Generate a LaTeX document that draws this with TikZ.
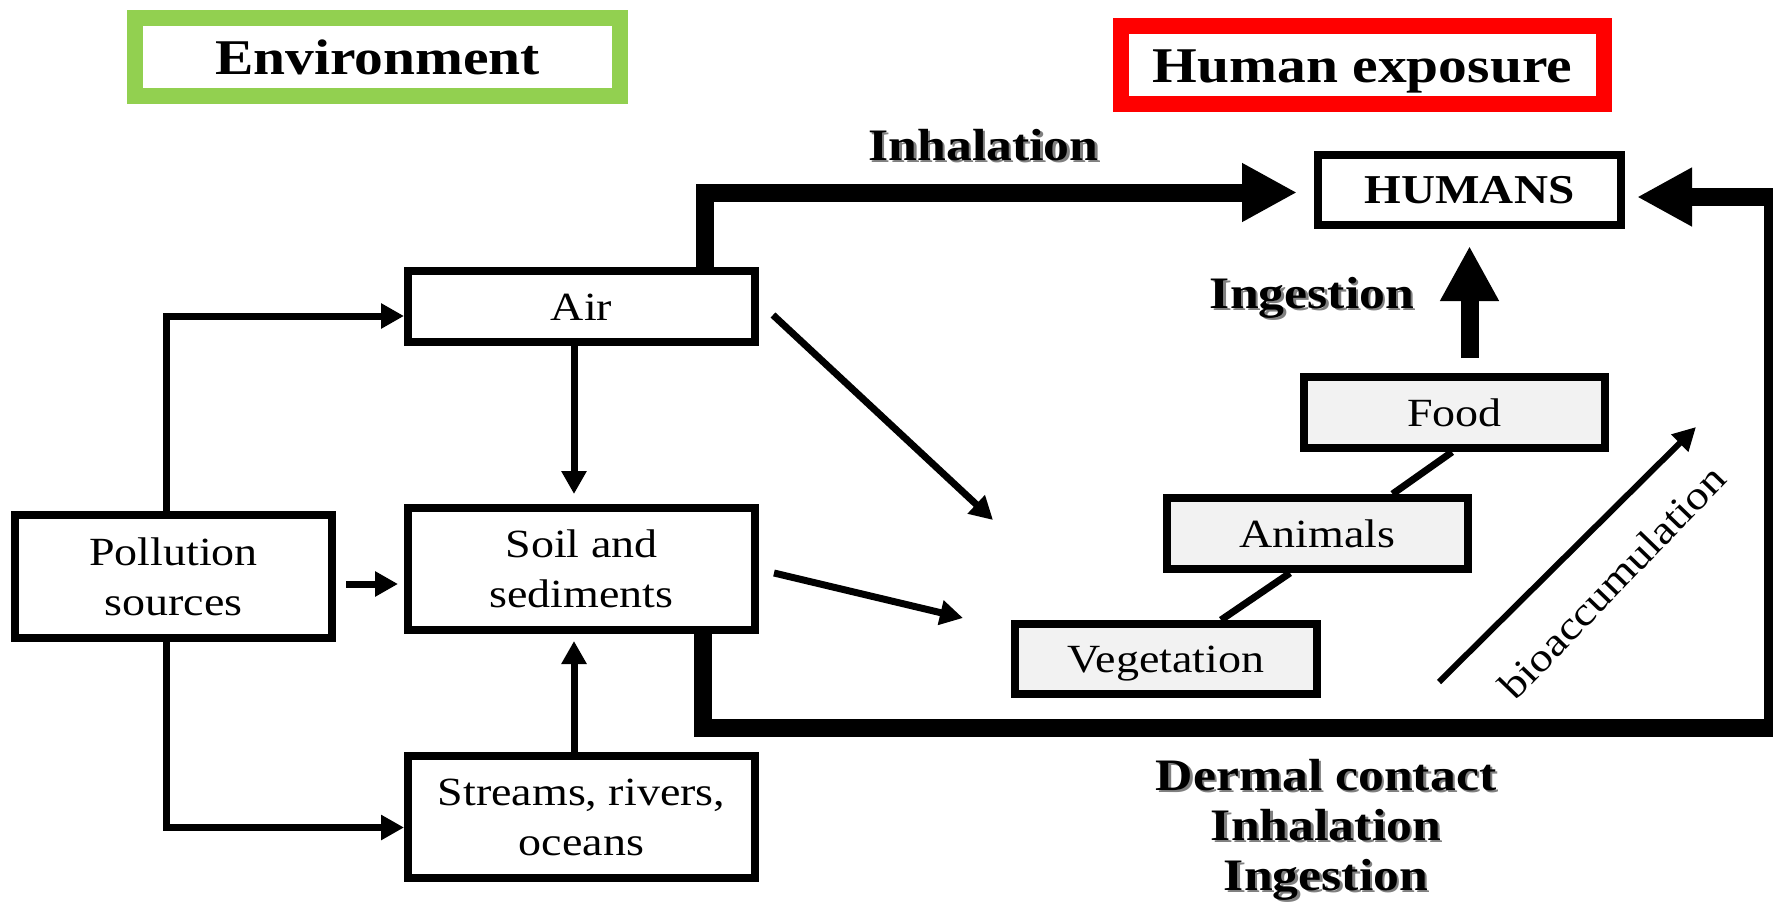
\documentclass[tikz,border=0pt]{standalone}
\usepackage{fontspec}
\setmainfont{Liberation Serif}[FakeStretch=1.15]
\usetikzlibrary{arrows.meta}
\definecolor{envgreen}{HTML}{92D050}
\definecolor{boxgray}{HTML}{F2F2F2}
\definecolor{shadowgray}{HTML}{808080}
\newcommand{\shd}[1]{\rlap{\textcolor{shadowgray}{\kern2.5pt\raisebox{-2.5pt}{#1}}}#1}
\begin{document}
\begin{tikzpicture}[x=1pt,y=-1pt,
 box/.style={draw=black, line width=8pt, fill=white, inner sep=0pt, align=center, font=\fontsize{40}{50}\selectfont},
 one/.style={text height=27pt, text depth=0pt},
 gbox/.style={box, one, fill=boxgray},
 hdr/.style={line width=16pt, fill=white, inner sep=0pt, text height=34pt, text depth=0pt, font=\fontsize{50}{60}\selectfont\bfseries},
 lbl/.style={font=\fontsize{45}{50}\selectfont\bfseries, inner sep=0pt, align=center},
 thinarr/.style={line width=7pt, -{Triangle[length=23pt,width=24pt]}},
 link/.style={line width=7pt},
 thickarr/.style={line width=18pt, line join=miter, -{Triangle[length=55pt,width=55pt]}},
]
\useasboundingbox (0,0) rectangle (1773,902);
\fill[white] (0,0) rectangle (1773,902);

% headers
\node[hdr, draw=envgreen, minimum width=485pt, minimum height=78pt] (env) at (377.5,57) {Environment};
\node[hdr, draw=red, minimum width=483pt, minimum height=78pt] (hexp) at (1362.5,65) {Human exposure};

% boxes
\node[box, minimum width=317pt, minimum height=123pt] (poll) at (173.5,576.5) {Pollution\\sources};
\node[box, one, minimum width=347pt, minimum height=71pt] (air) at (581.5,306.5) {Air};
\node[box, minimum width=347pt, minimum height=122pt] (soil) at (581.5,569) {Soil and\\sediments};
\node[box, minimum width=347pt, minimum height=122pt] (streams) at (581.5,817) {Streams, rivers,\\oceans};
\node[box, one, minimum width=303pt, minimum height=70pt, font=\fontsize{41}{50}\selectfont\bfseries] (humans) at (1469.5,190) {HUMANS};
\node[gbox, minimum width=301pt, minimum height=71pt] (food) at (1454.5,412.5) {Food};
\node[gbox, minimum width=301pt, minimum height=71pt] (animals) at (1317.5,533.5) {Animals};
\node[gbox, minimum width=302pt, minimum height=70pt] (veg) at (1166,659) {Vegetation};

% labels
\node[lbl, anchor=base] (linh) at (983.5,160) {\shd{Inhalation}};
\node[lbl, anchor=base] (ling) at (1312,308) {\shd{Ingestion}};
\node[lbl] (lderm) at (1326,830.7) {\shd{Dermal contact}\\\shd{Inhalation}\\\shd{Ingestion}};
\node[font=\fontsize{40}{50}\selectfont, rotate=46, inner sep=0pt] (lbio) at (1612,582) {bioaccumulation};

% thin connectors
\draw[thinarr] ([xshift=-7.5pt]poll.north) |- ([yshift=-9.5pt]air.west);
\draw[thinarr] ([xshift=-7.5pt]poll.south) |- ([yshift=-10.5pt]streams.west);
\draw[thinarr] ([xshift=10pt,yshift=-7.5pt]poll.east) -- ([xshift=-6pt,yshift=-15pt]soil.west);
\draw[thinarr] ([xshift=-7.5pt]air.south) -- ([xshift=-7.5pt,yshift=10pt]soil.north);
\draw[thinarr] ([xshift=-7.5pt]streams.north) -- ([xshift=-7.5pt,yshift=-7pt]soil.south);
\draw[thinarr] ([xshift=14pt,yshift=-8.5pt]air.east) -- ([xshift=-18pt,yshift=100pt]veg.north west);
\draw[thinarr] ([xshift=15pt,yshift=-4pt]soil.east) -- ([xshift=-48pt,yshift=41pt]veg.west);
\draw[link] ([xshift=-2.5pt]food.south) -- ([xshift=75pt]animals.north);
\draw[link] ([xshift=-27.5pt]animals.south) -- ([xshift=55pt]veg.north);

% bioaccumulation arrow
\coordinate (b1) at (1439,682);
\coordinate (b2) at (1696,427);
\draw[line width=6pt, -{Triangle[length=23pt,width=23pt]}] (b1) -- (b2);

% thick exposure routes
\draw[thickarr] ([xshift=123.5pt]air.north) |- ([xshift=-17pt,yshift=-2.5pt]humans.west);
\coordinate (rc) at (1773,727.5);
\draw[thickarr] ([xshift=121pt]soil.south) |- (rc) |- ([xshift=12pt,yshift=-7pt]humans.east);
\draw[thickarr] ([yshift=15pt]food.north -| humans.south) -- ([yshift=-17pt]humans.south);
\end{tikzpicture}
\end{document}
